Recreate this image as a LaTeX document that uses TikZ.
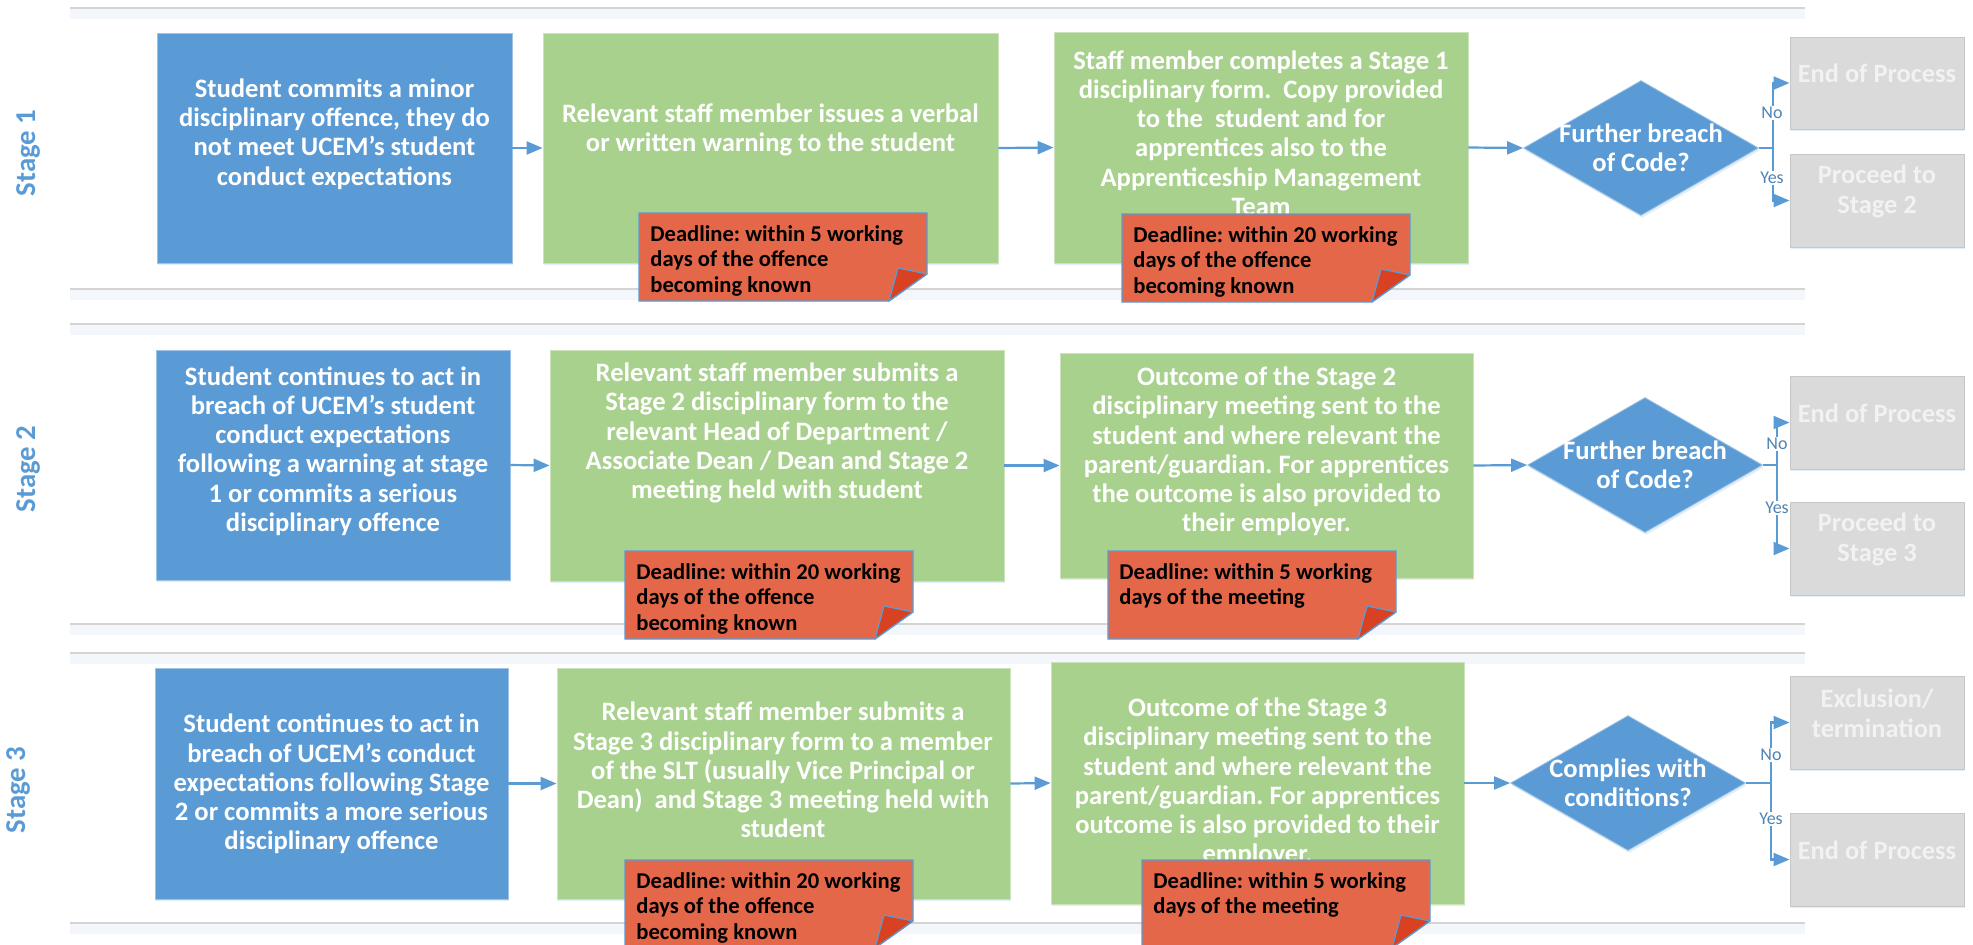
\documentclass[tikz,border=0pt]{standalone}
\usepackage{fontspec}
\setmainfont{Carlito}
\usepackage{tikz}
\usetikzlibrary{arrows.meta, shapes.geometric, fit, shadows}
\frenchspacing

\definecolor{stageblue}{HTML}{5B9BD5}
\definecolor{boxgreen}{HTML}{A9D18E}
\definecolor{notered}{HTML}{E5674A}
\definecolor{foldred}{HTML}{D84222}
\definecolor{endgray}{HTML}{DADADA}
\definecolor{lanegray}{HTML}{D4D4D4}
\definecolor{laneshade}{HTML}{F3F6FA}

\tikzset{%
  softshadow/.style={drop shadow={shadow xshift=0.6pt, shadow yshift=-1.2pt, opacity=0.18, fill=stageblue}},
  bluebox/.style={rectangle, fill=stageblue, draw=stageblue!60!white, line width=0.4pt, inner sep=0pt, softshadow},
  greenbox/.style={rectangle, fill=boxgreen, draw=boxgreen!60!white, line width=0.4pt, inner sep=0pt, softshadow},
  endbox/.style={rectangle, fill=endgray, draw=black!22, line width=0.5pt, inner sep=0pt, softshadow,
    text=white!95!black, align=center, font=\bfseries\fontsize{13.2}{14.9}\selectfont},
  boxtext/.style={text=white, align=center, inner sep=0pt, font=\bfseries\fontsize{13.3}{14.6}\selectfont},
  question/.style={diamond, aspect=1.74, fill=stageblue, draw=stageblue!60!white, line width=0.4pt,
    minimum width=117.5pt, minimum height=67.5pt, inner sep=-8pt, softshadow,
    text=white, align=center, font=\bfseries\fontsize{13.3}{14.4}\selectfont},
  flow/.style={draw=stageblue, line width=1.1pt, -{Triangle[length=8pt,width=6.5pt]}},
  yesno/.style={fill=white, inner sep=0.8pt, text=stageblue!85!black, font=\fontsize{9}{10}\selectfont},
  stagelabel/.style={rotate=90, text=stageblue, font=\bfseries\fontsize{14.4}{16}\selectfont},
  lane/.style={draw=lanegray, line width=1pt},
  notebody/.style={fill=notered, draw=stageblue, line width=0.6pt},
  notefold/.style={fill=foldred, draw=stageblue, line width=0.6pt, line join=round},
  notetext/.style={anchor=north west, align=left, inner sep=0pt, text=black,
    font=\bfseries\fontsize{11.3}{12.75}\selectfont}
}

% deadline note: name, top-left x, top-left y, text
\newcommand{\deadlinenote}[4]{%
  \path[notebody] (#2,#3) -- ++(288,0) -- ++(0,61) -- ++(-38,27) -- ++(-250,0) -- cycle;%
  \path[notefold] (#2+250,#3+88) -- (#2+288,#3+61) -- (#2+259,#3+55) -- cycle;%
  \node (#1) [notetext] at (#2+11,#3+12) {#4};%
}

\begin{document}
\begin{tikzpicture}[x=0.5pt, y=-0.5pt]
  \useasboundingbox (0,0) rectangle (1973,944);
  \clip (0,0) rectangle (1973,944);

  \def\offence#1{Deadline: within #1 working\\days of the offence\\becoming known}%
  \def\meeting{Deadline: within 5 working\\days of the meeting}%

  % swim lane rules
  \foreach \ly in {8, 289, 324, 624, 653, 923} {%
    \fill[laneshade] (70,\ly) rectangle (1805,\ly+11);
    \draw[lane] (70,\ly) -- (1805,\ly); }

  \node (s1) [stagelabel] at (28,153) {Stage 1};
  \node (s2) [stagelabel] at (28,469) {Stage 2};
  \node (s3) [stagelabel] at (18,790) {Stage 3};

  % stage 1
  \node (a1) [bluebox, fit={(157,33) (512,263)}] {};
  \node (b1) [greenbox, fit={(543,33) (998,263)}] {};
  \node (c1) [greenbox, fit={(1054,32) (1468,263)}] {};
  \node (a1t) [boxtext] at (334.5,134) {Student commits a minor\\disciplinary offence, they do\\not meet UCEM’s student\\conduct expectations};
  \node (b1t) [boxtext] at (770.5,130) {Relevant staff member issues a verbal\\or written warning to the student};
  \node (c1t) [boxtext] at (1261,133) {Staff member completes a Stage 1\\disciplinary form.\ \ Copy provided\\to the\ \ student and for\\apprentices also to the\\Apprenticeship Management\\Team};
  \node (d1) [question] at (1641,148) {Further breach\\of Code?};
  \node (e1) [endbox, fit={(1790,37) (1964,129)}] {End of Process};
  \node (f1) [endbox, fit={(1790,154) (1964,247)}] {Proceed to\\Stage 2};

  % stage 2
  \node (a2) [bluebox, fit={(156,350) (510,580)}] {};
  \node (b2) [greenbox, fit={(550,350) (1004,581)}] {};
  \node (c2) [greenbox, fit={(1060,353) (1473,578)}] {};
  \node (a2t) [boxtext] at (333,451) {Student continues to act in\\breach of UCEM’s student\\conduct expectations\\following a warning at stage\\1 or commits a serious\\disciplinary offence};
  \node (b2t) [boxtext] at (777,433) {Relevant staff member submits a\\Stage 2 disciplinary form to the\\relevant Head of Department /\\Associate Dean / Dean and Stage 2\\meeting held with student};
  \node (c2t) [boxtext] at (1266.5,451.5) {Outcome of the Stage 2\\disciplinary meeting sent to the\\student and where relevant the\\parent/guardian. For apprentices\\the outcome is also provided to\\their employer.};
  \node (d2) [question] at (1645,465) {Further breach\\of Code?};
  \node (e2) [endbox, fit={(1790,376) (1964,469)}] {End of Process};
  \node (f2) [endbox, fit={(1790,502) (1964,595)}] {Proceed to\\Stage 3};

  % stage 3
  \node (a3) [bluebox, fit={(155,668) (508,899)}] {};
  \node (b3) [greenbox, fit={(557,668) (1010,899)}] {};
  \node (c3) [greenbox, fit={(1051,662) (1464,904)}] {};
  \node (a3t) [boxtext] at (331.5,784) {Student continues to act in\\breach of UCEM’s conduct\\expectations following Stage\\2 or commits a more serious\\disciplinary offence};
  \node (b3t) [boxtext] at (783,770) {Relevant staff member submits a\\Stage 3 disciplinary form to a member\\of the SLT (usually Vice Principal or\\Dean)\ \ and Stage 3 meeting held with\\student};
  \node (c3t) [boxtext] at (1257.5,782.5) {Outcome of the Stage 3\\disciplinary meeting sent to the\\student and where relevant the\\parent/guardian. For apprentices\\outcome is also provided to their\\employer.};
  \node (d3) [question] at (1628,783) {Complies with\\conditions?};
  \node (e3) [endbox, fit={(1790,676) (1964,769)}] {Exclusion/\\termination};
  \node (f3) [endbox, fit={(1790,813) (1964,906)}] {End of Process};

  % connectors
  \foreach \s/\st in {1/14, 2/14, 3/25} {%
    \draw[flow] (a\s.east) -- (b\s.west);
    \draw[flow] (b\s.east) -- (c\s.west);
    \draw[flow] (c\s.east) -- (d\s.west);
    \path (d\s.east) ++(\st,0) coordinate (j\s);
    \draw[flow] (d\s.east) -- (j\s) |- (e\s.west);
    \draw[flow] (j\s) |- (f\s.west); }

  \node (no1) [yesno] at (1772,113) {No};  \node (yes1) [yesno] at (1772,178) {Yes};
  \node (no2) [yesno] at (1777,444) {No};  \node (yes2) [yesno] at (1777,508) {Yes};
  \node (no3) [yesno] at (1771,755) {No};  \node (yes3) [yesno] at (1771,819) {Yes};

  % deadline notes
  \deadlinenote{n1a}{639}{213}{\offence{5}}
  \deadlinenote{n1b}{1122}{214}{\offence{20}}
  \deadlinenote{n2a}{625}{551}{\offence{20}}
  \deadlinenote{n2b}{1108}{551}{\meeting}
  \deadlinenote{n3a}{625}{860}{\offence{20}}
  \deadlinenote{n3b}{1142}{860}{\meeting}
\end{tikzpicture}
\end{document}
